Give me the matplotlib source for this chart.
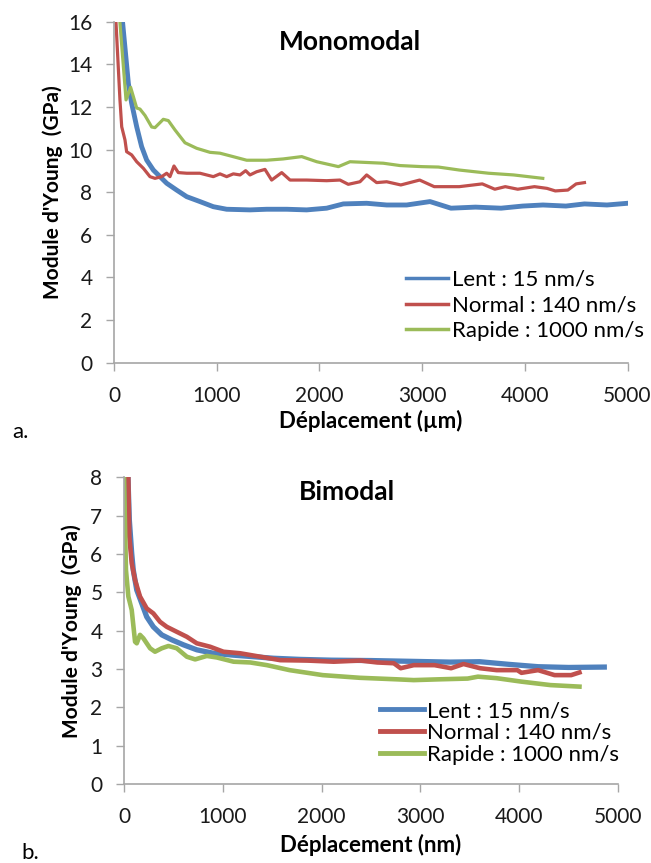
import matplotlib
matplotlib.use("Agg")
import matplotlib.pyplot as plt

plt.rcParams['font.family'] = ['Lato', 'DejaVu Sans']

# ---- data ----
labels = ["Lent : 15 nm/s", "Normal : 140 nm/s", "Rapide : 1000 nm/s"]
colors = ["#4F81BD", "#C0504D", "#9BBB59"]

# a. Monomodal
mono_lent_x = [83, 140, 172, 221, 269, 318, 383, 448, 513, 610, 708, 837, 967, 1097,
               1324, 1487, 1682, 1876, 2071, 2233, 2460, 2655, 2850, 3077, 3281,
               3520, 3769, 3980, 4177, 4400, 4581, 4800, 5000]
mono_lent_y = [16.0, 13.1, 12.17, 11.07, 10.14, 9.51, 9.04, 8.73, 8.42, 8.1, 7.79, 7.56,
               7.32, 7.2, 7.17, 7.2, 7.2, 7.17, 7.25, 7.45, 7.48, 7.4, 7.4, 7.56, 7.25,
               7.3, 7.25, 7.35, 7.4, 7.35, 7.45, 7.4, 7.48]

mono_normal_x = [19, 58, 75, 107, 123, 172, 221, 286, 350, 399, 464, 513, 545, 584, 626,
                 708, 837, 967, 1032, 1097, 1162, 1227, 1282, 1324, 1389, 1470, 1535,
                 1633, 1714, 1876, 2071, 2200, 2281, 2395, 2460, 2557, 2655, 2793, 2976,
                 3118, 3362, 3586, 3708, 3810, 3931, 4094, 4216, 4297, 4419, 4500, 4581]
mono_normal_y = [16.0, 12.33, 11.07, 10.45, 9.9, 9.75, 9.43, 9.12, 8.73, 8.65, 8.73, 8.89,
                 8.73, 9.23, 8.92, 8.89, 8.89, 8.73, 8.86, 8.73, 8.86, 8.81, 9.01, 8.81,
                 8.96, 9.07, 8.57, 8.92, 8.57, 8.57, 8.54, 8.57, 8.37, 8.49, 8.81, 8.45,
                 8.49, 8.34, 8.57, 8.26, 8.26, 8.39, 8.14, 8.26, 8.14, 8.26, 8.18, 8.06,
                 8.1, 8.39, 8.45]

mono_rapide_x = [57, 117, 162, 221, 253, 302, 367, 399, 480, 529, 594, 691, 805, 935,
                 1032, 1159, 1292, 1487, 1646, 1828, 1974, 2185, 2298, 2622, 2785, 2996,
                 3159, 3362, 3647, 3891, 4175]
mono_rapide_y = [16.0, 12.33, 12.92, 11.95, 11.9, 11.6, 11.06, 11.03, 11.42, 11.36, 10.92,
                 10.32, 10.06, 9.87, 9.83, 9.67, 9.5, 9.5, 9.56, 9.67, 9.43, 9.2, 9.43,
                 9.36, 9.25, 9.2, 9.18, 9.04, 8.89, 8.81, 8.65]

# b. Bimodal
bi_lent_x = [40, 54, 78, 94, 129, 180, 230, 297, 382, 484, 602, 737, 906, 1109, 1312,
             1514, 1785, 2100, 2500, 2900, 3300, 3600, 3900, 4190, 4500, 4861]
bi_lent_y = [8.0, 6.89, 6.02, 5.58, 5.06, 4.71, 4.36, 4.1, 3.89, 3.76, 3.63, 3.5, 3.41,
             3.36, 3.32, 3.28, 3.25, 3.23, 3.22, 3.2, 3.18, 3.19, 3.12, 3.06, 3.04, 3.05]

bi_normal_x = [44, 54, 78, 112, 162, 230, 297, 365, 433, 534, 636, 737, 872, 1007, 1176,
               1379, 1582, 1853, 2123, 2393, 2563, 2731, 2800, 2933, 3143, 3311, 3436,
               3604, 3772, 3981, 4023, 4191, 4358, 4526, 4610]
bi_normal_y = [8.0, 6.45, 5.76, 5.32, 4.89, 4.58, 4.45, 4.23, 4.1, 3.97, 3.84, 3.67, 3.58,
               3.45, 3.41, 3.32, 3.23, 3.22, 3.19, 3.22, 3.17, 3.15, 3.02, 3.1, 3.1, 3.02,
               3.13, 3.02, 2.97, 2.97, 2.9, 2.97, 2.84, 2.84, 2.91]

bi_rapide_x = [0, 20, 44, 78, 112, 129, 162, 196, 264, 314, 382, 450, 534, 636, 720, 838,
               940, 1109, 1278, 1447, 1676, 2011, 2388, 2766, 2933, 3185, 3478, 3583,
               3772, 4023, 4316, 4610]
bi_rapide_y = [8.0, 5.58, 4.89, 4.54, 3.71, 3.67, 3.89, 3.8, 3.54, 3.45, 3.54, 3.6, 3.54,
               3.32, 3.25, 3.34, 3.3, 3.19, 3.17, 3.1, 2.97, 2.84, 2.77, 2.73, 2.71, 2.73,
               2.75, 2.8, 2.76, 2.67, 2.58, 2.54]

W, H = 651, 863
fig = plt.figure(figsize=(W / 100, H / 100), dpi=100)


def box(x0, y0, x1, y1):
    # pixel box (top-left origin) -> figure fraction rect
    return [x0 / W, 1 - y1 / H, (x1 - x0) / W, (y1 - y0) / H]


def style_axes(ax):
    for side in ['top', 'right']:
        ax.spines[side].set_visible(False)
    for side in ['left', 'bottom']:
        ax.spines[side].set_color('#A6A6A6')
        ax.spines[side].set_linewidth(1.2)
    ax.tick_params(direction='out', length=5.5, width=1, color='#A6A6A6',
                   labelsize=15, labelcolor='#1a1a1a', pad=10)
    ax.tick_params(axis='x', pad=11)


ax1 = fig.add_axes(box(114, 21.7, 627.5, 362.7))
ax1.plot(mono_lent_x, mono_lent_y, color=colors[0], lw=3.5, label=labels[0])
ax1.plot(mono_normal_x, mono_normal_y, color=colors[1], lw=2.3, label=labels[1])
ax1.plot(mono_rapide_x, mono_rapide_y, color=colors[2], lw=2.3, label=labels[2])
ax1.set_xlim(0, 5000)
ax1.set_ylim(0, 16)
ax1.set_xticks(range(0, 5001, 1000))
ax1.set_yticks(range(0, 17, 2))
style_axes(ax1)
ax1.set_xlabel("Déplacement (µm)", fontsize=16, fontweight='bold', labelpad=3)
ax1.set_ylabel("Module d'Young  (GPa)", fontsize=15, fontweight='bold', labelpad=4)
leg1 = ax1.legend(loc='upper left', bbox_to_anchor=(406 / W, 1 - 270 / H),
                  bbox_transform=fig.transFigure, frameon=False, fontsize=16,
                  handlelength=1.9, handletextpad=0.15, labelspacing=0.25,
                  borderaxespad=0, borderpad=0)
for line in leg1.get_lines():
    line.set_linewidth(2.5)

ax2 = fig.add_axes(box(124, 477.3, 618, 784))
ax2.plot(bi_lent_x, bi_lent_y, color=colors[0], lw=3.8, label=labels[0])
ax2.plot(bi_normal_x, bi_normal_y, color=colors[1], lw=3.3, label=labels[1])
ax2.plot(bi_rapide_x, bi_rapide_y, color=colors[2], lw=3.3, label=labels[2])
ax2.set_xlim(0, 5000)
ax2.set_ylim(0, 8)
ax2.set_xticks(range(0, 5001, 1000))
ax2.set_yticks(range(0, 9, 1))
style_axes(ax2)
ax2.set_xlabel("Déplacement (nm)", fontsize=16, fontweight='bold', labelpad=5)
ax2.set_ylabel("Module d'Young  (GPa)", fontsize=15, fontweight='bold', labelpad=6)
leg2 = ax2.legend(loc='upper left', bbox_to_anchor=(380 / W, 1 - 701 / H),
                  bbox_transform=fig.transFigure, frameon=False, fontsize=16,
                  handlelength=2.0, handletextpad=0.12, labelspacing=0.08,
                  borderaxespad=0, borderpad=0)
for line in leg2.get_lines():
    line.set_linewidth(3.5)

fig.text(350 / W, 1 - 42 / H, "Monomodal", ha='center', va='center',
         fontsize=19, fontweight='bold')
fig.text(347 / W, 1 - 492 / H, "Bimodal", ha='center', va='center',
         fontsize=19, fontweight='bold')
fig.text(12 / W, 1 - 432 / H, "a.", ha='left', va='center', fontsize=16)
fig.text(21 / W, 1 - 853 / H, "b.", ha='left', va='center', fontsize=16)

fig.savefig("out.png", dpi=100)
